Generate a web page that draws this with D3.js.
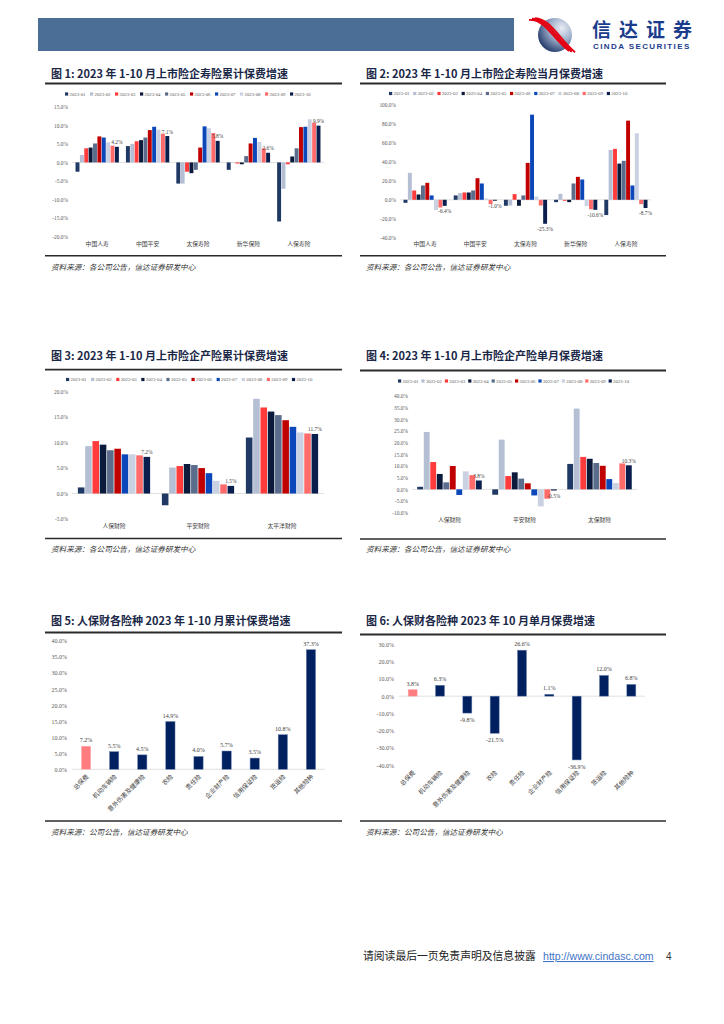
<!DOCTYPE html>
<html><head><meta charset="utf-8">
<script src="https://cdn.jsdelivr.net/npm/d3@7/dist/d3.min.js"></script>
<style>body{margin:0;background:#fff} svg{display:block}</style>
</head><body>
<svg id="page" width="724" height="1024"></svg>
<script>
// ---------------- DATA ----------------
const seriesNames = ['2023-01','2023-02','2023-03','2023-04','2023-05','2023-06','2023-07','2023-08','2023-09','2023-10'];
const seriesColors = ['#1F3864','#B4BFD4','#FF3B3B','#0C1A3C','#5A6D8C','#C00000','#0B47B8','#C9D1E2','#FF6B6B','#0A1F4E'];

const lifeCompanies = ['中国人寿','中国平安','太保寿险','新华保险','人保寿险'];
const lifeCumulative = [
  [-2.5, 2.0, 3.8, 4.0, 5.1, 7.0, 6.7, 5.4, 4.5, 4.2],
  [ 4.4, 5.0, 5.7, 6.0, 6.7, 8.7, 9.6, 8.8, 7.7, 7.1],
  [-5.7,-5.7,-2.5,-2.9,-2.0, 4.0, 9.7, 9.2, 7.9, 5.8],
  [-2.0,-0.1,-0.3,-0.5, 1.7, 5.1, 6.6, 5.5, 3.8, 2.6],
  [-15.9,-7.1,-0.5, 1.6, 3.8, 9.5, 9.6,11.6,10.7, 9.9]
];
const lifeCumTicks = [-20,-15,-10,-5,0,5,10,15];

const lifeMonthly = [
  [-3.2,28.4, 9.8, 5.6,15.1,17.9, 4.6,-10.9,-8.1,-6.4],
  [ 4.6, 7.0, 7.7, 7.7, 9.8,22.8,17.2,  1.4,-4.6,-1.0],
  [-6.3,-6.0, 6.0,-6.3, 4.6,38.9,89.8,  3.5,-6.0,-25.3],
  [-2.5, 6.3,-1.0,-2.5,17.2,24.2,21.4, -6.7,-10.0,-10.6],
  [-16.1,52.6,53.7,38.2,41.1,83.5,15.1,70.2,-4.6,-8.7]
];
const lifeMonTicks = [-40,-20,0,20,40,60,80,100];

const pcCompaniesCum = ['人保财险','平安财险','太平洋财险'];
const pcCumulative = [
  [ 1.2, 9.3,10.3, 9.6, 8.5, 8.8, 7.7, 7.7, 7.5, 7.2],
  [-2.3, 5.1, 5.4, 5.8, 5.6, 5.0, 4.0, 2.5, 1.8, 1.5],
  [11.0,18.6,16.9,16.1,15.4,14.4,13.1,12.0,11.8,11.7]
];
const pcCumTicks = [-5,0,5,10,15,20];

const pcCompaniesMon = ['人保财险','平安财险','太保财险'];
const pcMonthly = [
  [ 1.1,24.6,11.7, 6.6, 3.0,10.0,-2.4, 7.7, 6.1, 3.8],
  [-2.3,21.3, 5.7, 7.3, 4.6, 2.6,-2.6,-7.3,-4.0,-0.5],
  [10.9,34.6,13.9,13.1,11.3,10.1, 4.4, 2.7,11.1,10.3]
];
const pcMonTicks = [-10,-5,0,5,10,15,20,25,30,35,40];

const piccLines = ['总保费','机动车辆险','意外伤害及健康险','农险','责任险','企业财产险','信用保证险','货运险','其他险种'];
const piccCumulative = [7.2, 5.5, 4.5, 14.9, 4.0, 5.7, 3.5, 10.8, 37.3];
const piccCumTicks = [0,5,10,15,20,25,30,35,40];
const piccOctober = [3.8, 6.3, -9.8, -21.5, 26.6, 1.1, -36.9, 12.0, 6.8];
const piccOctTicks = [-40,-30,-20,-10,0,10,20,30];

// ---------------- PAGE ----------------
const svg = d3.select('#page');
svg.append('rect').attr('width',724).attr('height',1024).attr('fill','#fff');
const CJK = '"Noto Sans CJK SC","Noto Sans",sans-serif';
const SERIF = '"Liberation Serif","DejaVu Serif",serif';
const SANS = '"Liberation Sans",Arial,sans-serif';
const pct = v => v.toFixed(1) + '%';

// header banner
svg.append('rect').attr('x',38).attr('y',18).attr('width',476).attr('height',33).attr('fill','#4B6E97');
// logo
const defs = svg.append('defs');
const lg = defs.append('radialGradient').attr('id','sph').attr('cx','70%').attr('cy','30%').attr('r','80%');
lg.append('stop').attr('offset','0%').attr('stop-color','#E9EDF4');
lg.append('stop').attr('offset','45%').attr('stop-color','#9FB0CC');
lg.append('stop').attr('offset','100%').attr('stop-color','#1D3566');
const logo = svg.append('g').attr('transform','translate(555,35)');
logo.append('circle').attr('r',17).attr('fill','url(#sph)');
[0,3,6].forEach((o,i)=>{
  logo.append('path')
    .attr('d',`M${-26+o},${-15-o*0.3} C${-10+o},${-16} ${-2+o},${4} ${14+o},${16+o*0.2}`)
    .attr('fill','none').attr('stroke', '#E50012').attr('stroke-width', i===1?2.6:1.8);
});
svg.append('text').attr('x',592).attr('y',36.5).attr('font-family',CJK).attr('font-weight',700)
  .attr('font-size',19).attr('fill','#1B3C8C').attr('letter-spacing',8).text('信达证券');
svg.append('text').attr('x',593).attr('y',48.5).attr('font-family',SANS).attr('font-weight',700)
  .attr('font-size',8).attr('fill','#1B3C8C').attr('letter-spacing',1.4).text('CINDA SECURITIES');

// titles / lines / sources
function frame(x0, x1, titleY, topLineY, bottomLineY, sourceY, title, source){
  svg.append('text').attr('x',x0+6).attr('y',titleY).attr('font-family',CJK).attr('font-weight',700)
    .attr('font-size',11).attr('fill','#1A2747').text(title);
  svg.append('line').attr('x1',x0).attr('x2',x1).attr('y1',topLineY).attr('y2',topLineY)
    .attr('stroke','#2B2B2B').attr('stroke-width',1.8);
  svg.append('line').attr('x1',x0).attr('x2',x1).attr('y1',bottomLineY).attr('y2',bottomLineY)
    .attr('stroke','#2B2B2B').attr('stroke-width',1.6);
  svg.append('text').attr('x',x0+6).attr('y',sourceY).attr('font-family',CJK).attr('font-style','italic')
    .attr('font-size',7.6).attr('fill','#333').text(source);
}
const src1 = '资料来源：各公司公告，信达证券研发中心';
const src2 = '资料来源：公司公告，信达证券研发中心';
frame(45,342,78,83.5,255.7,270,'图 1:  2023 年 1-10 月上市险企寿险累计保费增速',src1);
frame(360,666,78,83.5,255.7,270,'图 2:  2023 年 1-10 月上市险企寿险当月保费增速',src1);
frame(45,342,360,369.7,538.5,552,'图 3:  2023 年 1-10 月上市险企产险累计保费增速',src1);
frame(360,666,360,370.5,539,552,'图 4:  2023 年 1-10 月上市险企产险单月保费增速',src1);
frame(45,342,625,632.5,821,835,'图 5:  人保财各险种 2023 年 1-10 月累计保费增速',src2);
frame(360,666,625,634.5,821,835,'图 6:  人保财各险种 2023 年 10 月单月保费增速',src2);

// ---------------- grouped chart ----------------
function grouped(o){
  const g = svg.append('g');
  const y = d3.scaleLinear().domain(o.yDomain).range([o.yBottom, o.yTop]);
  const x0 = d3.scaleBand().domain(o.cats).range([o.xLeft, o.xRight]).paddingInner(0.14).paddingOuter(0.07);
  const x1 = d3.scaleBand().domain(seriesNames).range([0, x0.bandwidth()]).paddingInner(0.1);
  const ax = g.append('g').attr('transform',`translate(${o.xLeft},0)`)
    .call(d3.axisLeft(y).tickValues(o.ticks).tickSize(0).tickPadding(4).tickFormat(pct));
  ax.select('.domain').remove();
  ax.selectAll('text').attr('font-family',SERIF).attr('font-size',5.4).attr('fill','#595959');
  g.append('line').attr('x1',o.xLeft).attr('x2',o.xRight).attr('y1',y(0)).attr('y2',y(0))
    .attr('stroke','#D9D9D9').attr('stroke-width',0.8);
  const grp = g.selectAll('g.cat').data(o.cats).join('g').attr('class','cat')
    .attr('transform',c=>`translate(${x0(c)},0)`);
  grp.selectAll('rect').data((c,i)=>o.values[i].map((v,j)=>({v,s:seriesNames[j],j}))).join('rect')
    .attr('x',d=>x1(d.s)).attr('width',x1.bandwidth())
    .attr('y',d=>y(Math.max(0,d.v))).attr('height',d=>Math.abs(y(d.v)-y(0)))
    .attr('fill',d=>seriesColors[d.j]);
  // category labels
  g.selectAll('text.cl').data(o.cats).join('text').attr('class','cl')
    .attr('x',c=>x0(c)+x0.bandwidth()/2).attr('y',o.catY).attr('text-anchor','middle')
    .attr('font-family',CJK).attr('font-size',5.8).attr('fill','#404040').text(c=>c);
  // value labels on the last series
  const last = seriesNames.length-1;
  g.selectAll('text.vl').data(o.cats).join('text').attr('class','vl')
    .attr('x',c=>x0(c)+x1(seriesNames[last])+x1.bandwidth()/2)
    .attr('y',(c,i)=>{const v=o.values[i][last]; return v>=0? y(v)-2.5 : y(v)+7;})
    .attr('text-anchor','middle').attr('font-family',SERIF).attr('font-size',5.4).attr('fill','#404040')
    .text((c,i)=>pct(o.values[i][last]));
  // legend
  const lgd = g.selectAll('g.lg').data(seriesNames).join('g').attr('class','lg')
    .attr('transform',(s,i)=>`translate(${o.legendX + i*o.legendStep},${o.legendY})`);
  lgd.append('rect').attr('x',0).attr('y',-1.6).attr('width',3.2).attr('height',3.2).attr('fill',(s,i)=>seriesColors[i]);
  lgd.append('text').attr('x',4.5).attr('y',1.7).attr('font-family',SERIF).attr('font-size',4.8)
    .attr('fill','#595959').text(s=>s);
}

grouped({cats:lifeCompanies, values:lifeCumulative, yDomain:[-20,15], ticks:lifeCumTicks,
  yTop:106.7, yBottom:236.7, xLeft:72, xRight:324, catY:246, legendX:65, legendY:94, legendStep:25});
grouped({cats:lifeCompanies, values:lifeMonthly, yDomain:[-40,100], ticks:lifeMonTicks,
  yTop:105, yBottom:237.7, xLeft:400, xRight:651, catY:246, legendX:389, legendY:93.5, legendStep:24.2});
grouped({cats:pcCompaniesCum, values:pcCumulative, yDomain:[-5,20], ticks:pcCumTicks,
  yTop:391.7, yBottom:519, xLeft:72, xRight:324, catY:527.5, legendX:66, legendY:379.5, legendStep:25.1});
grouped({cats:pcCompaniesMon, values:pcMonthly, yDomain:[-10,40], ticks:pcMonTicks,
  yTop:396, yBottom:512.7, xLeft:412, xRight:637, catY:521.5, legendX:398, legendY:381, legendStep:23.4});

// ---------------- single-series charts ----------------
function single(o){
  const g = svg.append('g');
  const y = d3.scaleLinear().domain(o.yDomain).range([o.yBottom, o.yTop]);
  const x = d3.scaleBand().domain(piccLines).range([o.xLeft,o.xRight]).paddingInner(0.67).paddingOuter(0.335);
  const ax = g.append('g').attr('transform',`translate(${o.xLeft},0)`)
    .call(d3.axisLeft(y).tickValues(o.ticks).tickSize(0).tickPadding(5).tickFormat(pct));
  ax.select('.domain').remove();
  ax.selectAll('text').attr('font-family',SERIF).attr('font-size',6).attr('fill','#595959');
  g.append('line').attr('x1',o.xLeft).attr('x2',o.xRight).attr('y1',y(0)).attr('y2',y(0))
    .attr('stroke','#D9D9D9').attr('stroke-width',0.8);
  g.selectAll('rect.b').data(o.values).join('rect').attr('class','b')
    .attr('x',(v,i)=>x(piccLines[i])).attr('width',x.bandwidth())
    .attr('y',v=>y(Math.max(0,v))).attr('height',v=>Math.abs(y(v)-y(0)))
    .attr('fill',(v,i)=>i===0?'#FF7C80':'#002060')
    .attr('stroke',(v,i)=>i===0?'#FFB3B5':'#6F86B0').attr('stroke-width',0.5);
  g.selectAll('text.v').data(o.values).join('text').attr('class','v')
    .attr('x',(v,i)=>x(piccLines[i])+x.bandwidth()/2)
    .attr('y',v=>v>=0? y(v)-4 : y(v)+9)
    .attr('text-anchor','middle').attr('font-family',SERIF).attr('font-size',6).attr('fill','#404040')
    .text(pct);
  g.selectAll('text.c').data(piccLines).join('text').attr('class','c')
    .attr('transform',c=>`translate(${x(c)+x.bandwidth()/2+3},${o.catY}) rotate(-45)`)
    .attr('text-anchor','end').attr('font-family',CJK).attr('font-size',6.2).attr('fill','#404040').text(c=>c);
}
single({values:piccCumulative, yDomain:[0,40], ticks:piccCumTicks, yTop:641, yBottom:769.3,
  xLeft:72, xRight:325, catY:777});
single({values:piccOctober, yDomain:[-40,30], ticks:piccOctTicks, yTop:644.3, yBottom:765.3,
  xLeft:399, xRight:645, catY:773});

// ---------------- footer ----------------
svg.append('text').attr('x',363).attr('y',960).attr('font-family',CJK).attr('font-size',10.8)
  .attr('fill','#222').text('请阅读最后一页免责声明及信息披露');
svg.append('text').attr('x',543).attr('y',960).attr('font-family',SANS)
  .attr('font-size',10.6).attr('fill','#3F74C6').attr('text-decoration','underline').text('http://www.cindasc.com');
svg.append('text').attr('x',666).attr('y',960).attr('font-family',SANS)
  .attr('font-size',10).attr('fill','#333').text('4');
</script>
</body></html>
